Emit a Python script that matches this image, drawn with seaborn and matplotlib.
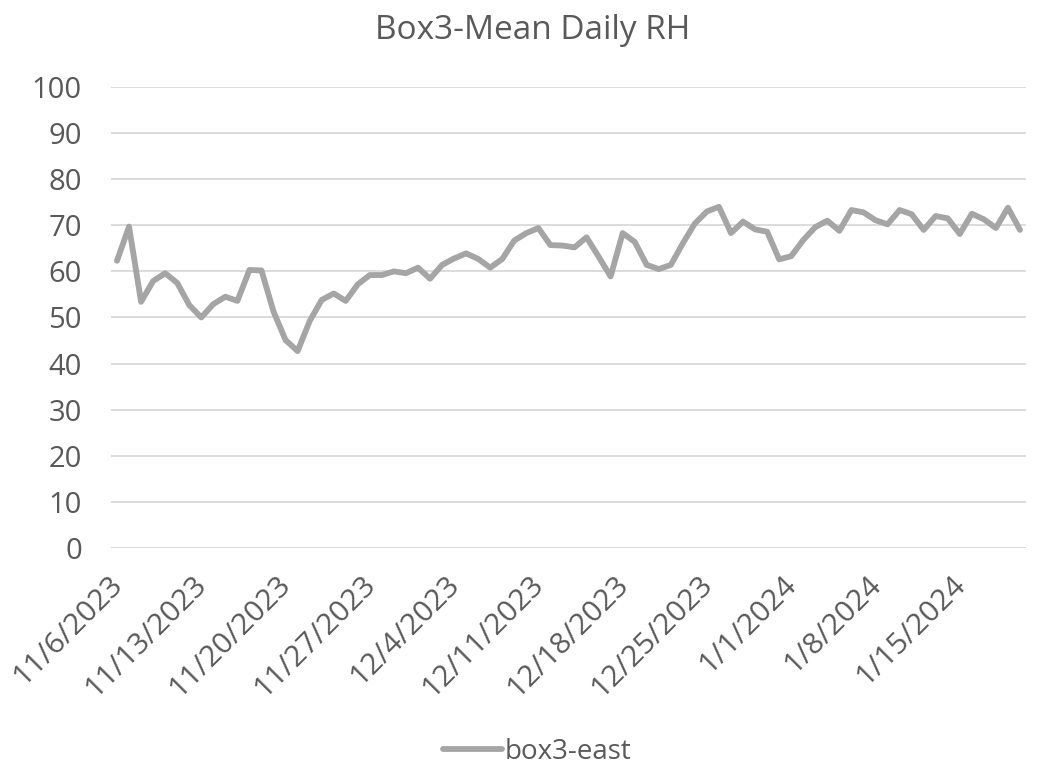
import matplotlib
matplotlib.use("Agg")
import matplotlib.pyplot as plt
from matplotlib.transforms import ScaledTranslation
from matplotlib.lines import Line2D
import seaborn as sns
import pandas as pd

title = "Box3-Mean Daily RH"
series_name = "box3-east"
start_date = "2023-11-06"
rh_values = [
    62.3, 69.7, 53.4, 57.9, 59.6, 57.5, 52.7, 50.0, 52.9, 54.5,
    53.6, 60.3, 60.2, 51.3, 45.1, 42.7, 49.2, 53.8, 55.2, 53.6,
    57.2, 59.2, 59.2, 60.0, 59.6, 60.8, 58.4, 61.4, 62.8, 63.9,
    62.7, 60.8, 62.7, 66.7, 68.3, 69.4, 65.7, 65.6, 65.2, 67.4,
    63.2, 58.9, 68.3, 66.4, 61.4, 60.5, 61.4, 66.1, 70.4, 73.0,
    74.0, 68.3, 70.8, 69.1, 68.6, 62.6, 63.3, 66.8, 69.6, 71.0,
    68.8, 73.3, 72.8, 71.1, 70.2, 73.3, 72.4, 69.0, 72.0, 71.5,
    68.1, 72.5, 71.3, 69.4, 73.8, 69.0,
]
tick_labels = ["11/6/2023", "11/13/2023", "11/20/2023", "11/27/2023",
               "12/4/2023", "12/11/2023", "12/18/2023", "12/25/2023",
               "1/1/2024", "1/8/2024", "1/15/2024"]
y_ticks = [0, 10, 20, 30, 40, 50, 60, 70, 80, 90, 100]

dates = pd.date_range(start_date, periods=len(rh_values), freq="D")
df = pd.DataFrame({"date": dates, "rh": rh_values, "series": series_name})

sns.set_theme(style="white")
plt.rcParams["font.family"] = ["Open Sans", "DejaVu Sans"]

text_color = "#595959"
line_color = "#A5A5A5"
grid_color = "#D9D9D9"

fig = plt.figure(figsize=(10.43, 7.73), dpi=100)
ax = fig.add_axes([0.1064, 0.2911, 0.8773, 0.5964])

sns.lineplot(data=df, x="date", y="rh", hue="series", palette=[line_color],
             linewidth=4.2, ax=ax, legend=False)

ax.set_ylim(0, 100)
ax.set_yticks(y_ticks)
ax.set_yticklabels([str(v) for v in y_ticks], fontsize=21, color=text_color)
half = pd.Timedelta(hours=12)
ax.set_xlim(dates[0] - half, dates[-1] + half)
tick_dates = pd.date_range(start_date, periods=len(tick_labels), freq="7D")
ax.set_xticks(tick_dates)
ax.set_xticklabels(tick_labels, rotation=45, ha="right", va="top",
                   rotation_mode="anchor", fontsize=21.5, color=text_color)
ax.tick_params(axis="x", length=0, pad=16)
ax.tick_params(axis="y", length=0, pad=21)
shift = ScaledTranslation(-9 / 100, 0, fig.dpi_scale_trans)
for lab in ax.get_xticklabels():
    lab.set_transform(lab.get_transform() + shift)
ax.yaxis.grid(True, color=grid_color, linewidth=1.3)
ax.set_axisbelow(True)
for s in ax.spines.values():
    s.set_visible(False)
ax.set_xlabel("")
ax.set_ylabel("")

fig.text(0.5106, 0.960, title, ha="center", va="center", fontsize=24, color=text_color)

handle = Line2D([], [], color=line_color, linewidth=4.2, solid_capstyle="round")
fig.legend([handle], [series_name], loc="center", bbox_to_anchor=(0.515, 0.027),
           frameon=False, fontsize=20, handlelength=2.1, handletextpad=0.1,
           labelcolor=text_color)

fig.savefig("out.png", dpi=100)
